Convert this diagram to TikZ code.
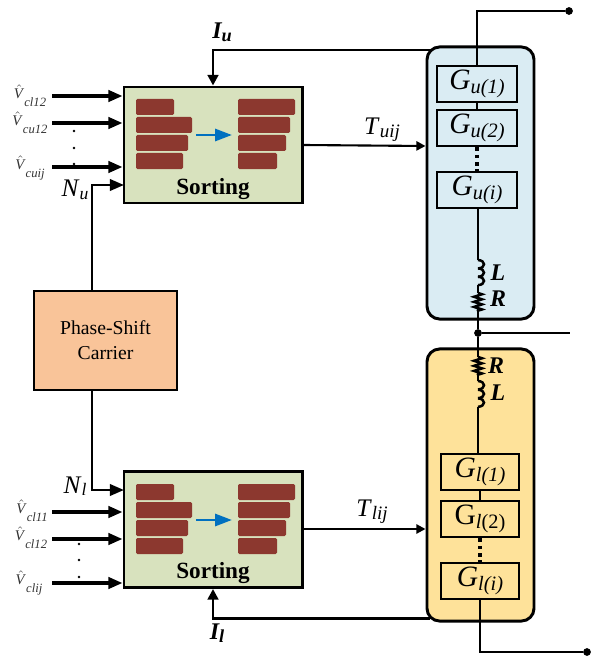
\documentclass[tikz,border=0pt]{standalone}
\usepackage{amsmath}
\usepackage{fontspec}
\setmainfont{Liberation Serif}
\usepackage{xcolor}
\usetikzlibrary{arrows.meta,calc,decorations.pathmorphing}
\definecolor{sortgreen}{HTML}{D8E2BE}
\definecolor{panelblue}{HTML}{DAECF3}
\definecolor{panelyellow}{HTML}{FEE29A}
\definecolor{carrierorange}{HTML}{F9C499}
\definecolor{barred}{HTML}{8C382F}
\definecolor{barblue}{HTML}{0070C0}
\newcommand{\Vlab}[1]{\fontsize{10.5}{11}\selectfont\color{black!80}\raisebox{.5ex}{$\hat{\hbox{\textit{V}}}$}\raisebox{-.7ex}{\fontsize{9}{10}\selectfont\textit{#1}}}
\newcommand{\Glab}[2]{{\fontsize{21}{22}\selectfont #1}\raisebox{-.5ex}{\fontsize{14.5}{15}\selectfont #2}}
\newcommand{\Wlab}[2]{{\fontsize{#1}{20}\selectfont\textit{#2}}}
\tikzset{
  sortbox/.style={draw,line width=2.1pt,fill=sortgreen,minimum width=4.45cm,minimum height=2.9cm},
  panelbox/.style={draw,line width=2.1pt,rounded corners=9pt,minimum width=2.675cm,minimum height=6.8cm},
  gbox/.style={draw,line width=2.1pt,inner sep=0pt,minimum height=.9cm},
  wire/.style={line width=1.8pt},
  inwire/.style={line width=2.3pt,-{Triangle[length=10pt,width=8pt]}},
  outwire/.style={line width=1.5pt,-{Triangle[length=6.5pt,width=6.5pt]}},
  currentwire/.style={line width=1.9pt,-{Triangle[length=7.5pt,width=7.5pt]}},
  gapwire/.style={line width=2.2pt,dash pattern=on 2.6pt off 2.6pt},
  dotnode/.style={circle,fill,inner sep=0pt,minimum size=5.5pt},
  smalldot/.style={circle,fill,inner sep=0pt,minimum size=1.8pt}
}
\begin{document}
\begin{tikzpicture}[x=0.025cm,y=-0.025cm]
\useasboundingbox (0,0) rectangle (592,656);
% sorting blocks and carrier
\node[sortbox] (sortu) at (213,145) {};
\node[sortbox] (sortl) at (213,529.5) {};
\node[draw,line width=1.8pt,fill=carrierorange,minimum width=3.575cm,minimum height=2.475cm,align=center,font=\fontsize{14}{18}\selectfont] (carrier) at (105.5,340.5) {Phase-Shift\\Carrier};
% bars inside the sorting blocks
\foreach \dy in {0,385}{
  \foreach \ya/\xa/\xb in {99/174/295,117/192/290,135/188/286,153/183/277}{
    \fill[barred,rounded corners=1pt] (136,\ya+\dy) rectangle (\xa,\ya+\dy+16);
    \fill[barred,rounded corners=1pt] (238,\ya+\dy) rectangle (\xb,\ya+\dy+16);
  }
  \draw[barblue,line width=2pt,-{Triangle[length=12pt,width=8.5pt]}] (196,135+\dy)--(232,135+\dy);
}
\node[font=\fontsize{16.5}{18}\selectfont\bfseries] (sortua) at (213,189) {Sorting};
\node[font=\fontsize{16.5}{18}\selectfont\bfseries] (sortla) at (213,573) {Sorting};
% arm panels
\node[panelbox,fill=panelblue] (panelu) at (480.5,183) {};
\node[panelbox,fill=panelyellow] (panell) at (480.5,485) {};
\node[dotnode] (junction) at (478,333) {};
\node[dotnode] (udot) at (569,11) {};
\node[dotnode] (ldot) at (587,652) {};
\coordinate (mright) at (570,333);
% submodules
\node[gbox,minimum width=2cm] (gu1) at (477,84) {\Glab{\textit{G}}{\textit{u(1)}}};
\node[gbox,minimum width=2cm] (gu2) at (477,128) {\Glab{\textit{G}}{\textit{u(2)}}};
\node[gbox,minimum width=2cm] (gui) at (477,190) {\Glab{\textit{G}}{\textit{u(i)}}};
\node[gbox,minimum width=1.95cm] (gl1) at (480,472) {\Glab{\textit{G}}{\textit{l(1)}}};
\node[gbox,minimum width=1.95cm] (gl2) at (480,519) {\Glab{G}{\textit{l}(2)}};
\node[gbox,minimum width=1.95cm] (gli) at (480,581) {\Glab{\textit{G}}{\textit{l(i)}}};
% power path
\draw[wire] (gu1.north) |- (udot);
\draw[wire] (gu1)--(gu2);
\draw[gapwire] (gu2.south)--(gui.north);
\draw[wire] (gl1)--(gl2);
\draw[gapwire] (gl2.south)--(gli.north);
\draw[wire] (gli.south) |- (ldot);
\draw[wire] (junction)--(mright);
\coordinate (lua) at (478,260); \coordinate (lub) at (478,285);
\coordinate (rua) at (478,293); \coordinate (rub) at (478,311);
\coordinate (rla) at (478,357); \coordinate (rlb) at (478,375);
\coordinate (lla) at (478,381); \coordinate (llb) at (478,407);
\draw[wire] (gui.south -| lua)--(lua) (lub)--(rua) (rub)--(junction)--(rla) (rlb)--(lla) (llb)--(llb |- gl1.north);
\foreach \y in {260,268.33,276.67,381,389.67,398.33}{
  \draw[wire] (478,\y) .. controls (486,\y+0.5) and (486,\y+8) .. (478,\y+8.5);
}
\draw[wire,decorate,decoration={zigzag,segment length=3.6pt,amplitude=2.8pt}] (rua)--(rub);
\draw[wire,decorate,decoration={zigzag,segment length=3.6pt,amplitude=2.8pt}] (rla)--(rlb);
\node[font=\bfseries\itshape\fontsize{17}{17}\selectfont] (labl1) at (498,273) {L};
\node[font=\bfseries\itshape\fontsize{17}{17}\selectfont] (labr1) at (498,299) {R};
\node[font=\bfseries\itshape\fontsize{17}{17}\selectfont] (labr2) at (496,366) {R};
\node[font=\bfseries\itshape\fontsize{17}{17}\selectfont] (labl2) at (498,393) {L};
% upper inputs
\coordinate (vu1) at (52,96); \coordinate (vu2) at (52,123); \coordinate (vu3) at (52,167);
\foreach \n in {vu1,vu2,vu3}{ \draw[inwire] (\n)--(\n -| sortu.west); }
\node[inner sep=0pt] (labu1) at (30,96) {\Vlab{cl12}};
\node[inner sep=0pt] (labu2) at (30,123) {\Vlab{cu12}};
\node[inner sep=0pt] (labu3) at (30,168) {\Vlab{cuij}};
\foreach \y [count=\i] in {131,148,164}{ \node[smalldot] (dotu\i) at (74,\y) {}; }
% lower inputs
\coordinate (vl1) at (52,512); \coordinate (vl2) at (52,539); \coordinate (vl3) at (52,583);
\foreach \n in {vl1,vl2,vl3}{ \draw[inwire] (\n)--(\n -| sortl.west); }
\node[inner sep=0pt] (labl1v) at (32,511) {\Vlab{cl11}};
\node[inner sep=0pt] (labl2v) at (31,538) {\Vlab{cl12}};
\node[inner sep=0pt] (labl3v) at (29,583) {\Vlab{clij}};
\foreach \y [count=\i] in {544,560,577}{ \node[smalldot] (dotl\i) at (79,\y) {}; }
% carrier to sorting
\coordinate (nu) at (124,185); \coordinate (nl) at (124,490);
\draw[inwire,line width=2pt] (carrier.north -| 92,0) |- (nu);
\draw[inwire,line width=2pt] (carrier.south -| 92,0) |- (nl);
\node (labnu) at (75,190) {\Wlab{18}{N}\raisebox{-.4ex}{\fontsize{12.5}{13}\selectfont\textit{u}}};
\node (labnl) at (75,486) {\Wlab{18}{N}\raisebox{-.4ex}{\fontsize{12.5}{13}\selectfont\textit{l}}};
% gate signals and measured currents
\draw[outwire] (sortu.east |- 0,145)--(panelu.west |- 0,146);
\draw[outwire] (sortl.east |- 0,529)--(panell.west |- 0,529);
\node (labtu) at (382,130) {\Wlab{18}{T}\raisebox{-.4ex}{\fontsize{13.5}{14}\selectfont\textit{uij}}};
\node (labtl) at (372,512) {\Wlab{18}{T}\raisebox{-.4ex}{\fontsize{13.5}{14}\selectfont\textit{lij}}};
\coordinate (iu) at (430,50); \coordinate (il) at (430,618.5);
\draw[currentwire] (iu) -| (sortu.north);
\draw[currentwire] (il) -| (sortl.south);
\node[font=\bfseries\itshape] (labiu) at (222,32) {{\fontsize{17}{17}\selectfont I}\raisebox{-.4ex}{\fontsize{13}{13}\selectfont u}};
\node[font=\bfseries\itshape] (labil) at (217,633) {{\fontsize{17}{17}\selectfont I}\raisebox{-.4ex}{\fontsize{13}{13}\selectfont l}};
\end{tikzpicture}
\end{document}
